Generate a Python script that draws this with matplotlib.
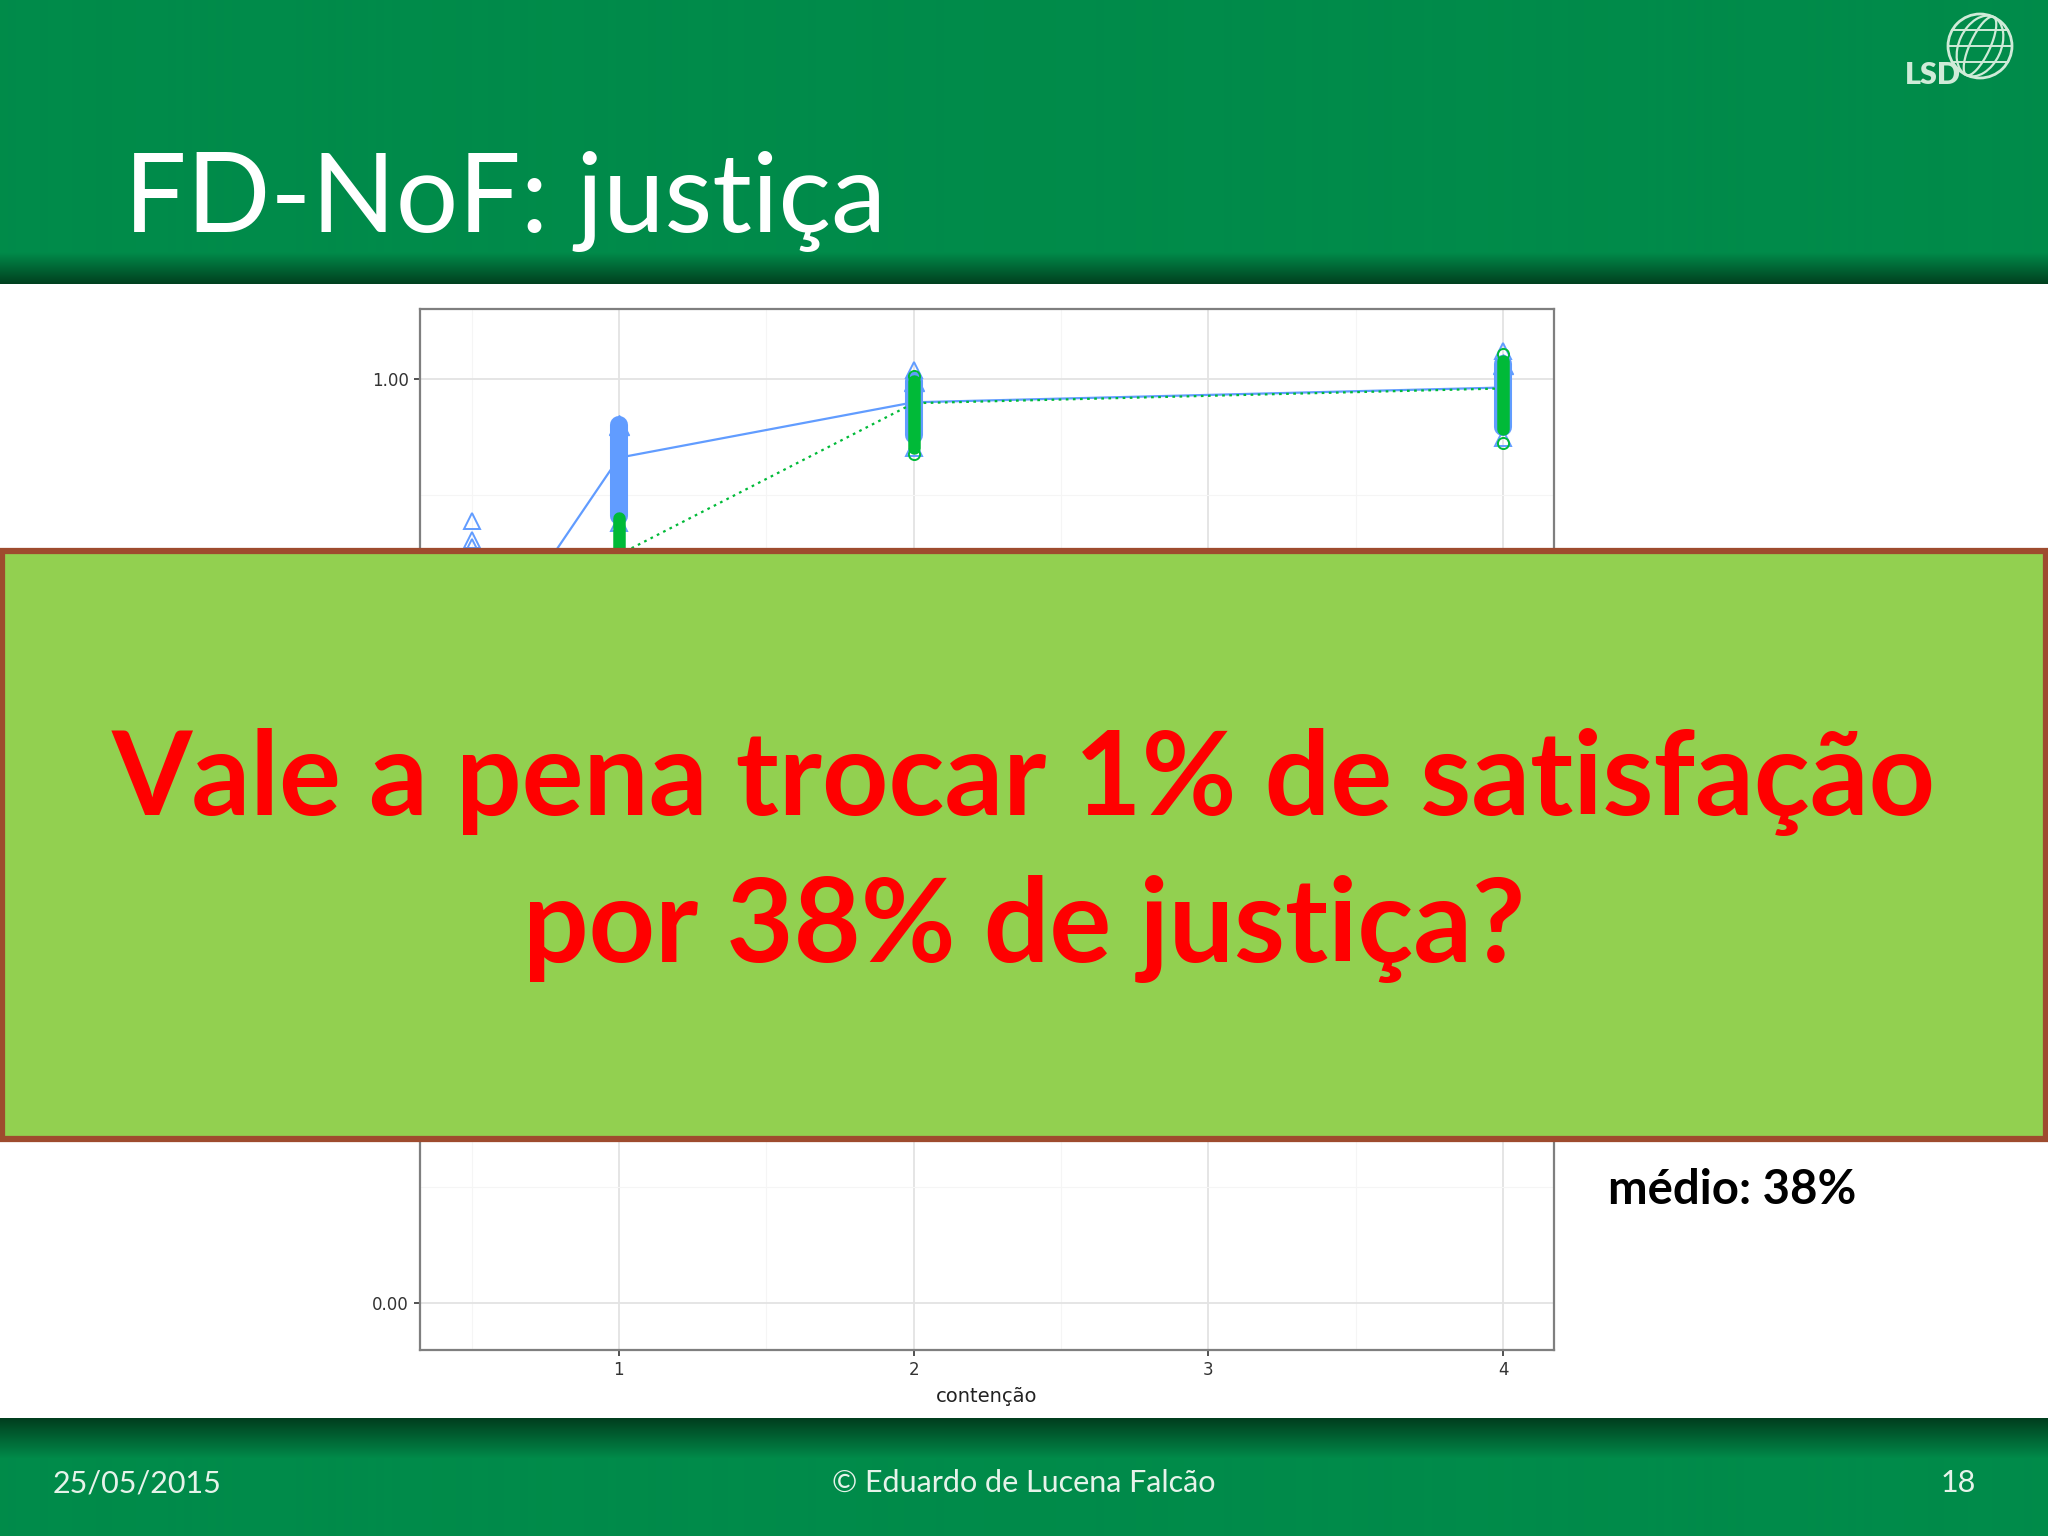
import matplotlib
matplotlib.use("Agg")
import matplotlib.pyplot as plt
import numpy as np
from matplotlib.patches import Rectangle, Circle, Arc

# --- chart data ----------------------------------------------------------
# mean line per contention level (blue = solid, green = dotted)
azul_x = [0.5, 1, 2, 4]
azul_media = [0.68, 0.915, 0.975, 0.991]
verde_x = [1, 2, 4]
verde_media = [0.81, 0.974, 0.990]

# dense stacks of points drawn as solid columns (min / max of each stack)
azul_col_x = [1, 2, 4]
azul_col_min = [0.852, 0.940, 0.948]
azul_col_max = [0.950, 0.998, 1.016]
verde_col_x = [1, 2, 4]
verde_col_min = [0.60, 0.925, 0.946]
verde_col_max = [0.850, 0.998, 1.020]

# loose points around the stacks
azul_pts_x = [0.5, 0.5, 0.5, 1, 2, 2, 4, 4]
azul_pts_y = [0.846, 0.826, 0.818, 0.844, 0.926, 1.010, 0.936, 1.030]
verde_pts_x = [2, 2, 4, 4]
verde_pts_y = [0.919, 1.004, 0.931, 1.027]

y_ticks = [0.0, 0.25, 0.5, 0.75, 1.0]
y_labels = ["0.00", "0.25", "0.50", "0.75", "1.00"]
x_ticks = [1, 2, 3, 4]
x_labels = ["1", "2", "3", "4"]

AZUL = "#619CFF"
VERDE = "#00BA38"
HEADER = (0 / 255, 139 / 255, 74 / 255)

W, H = 2048, 1536
fig = plt.figure(figsize=(20.48, 15.36), dpi=100)
fig.patch.set_facecolor("white")

# --- background: header / footer ----------------------------------------
bg = fig.add_axes([0, 0, 1, 1])
bg.set_xlim(0, W)
bg.set_ylim(H, 0)
bg.axis("off")
bg.set_zorder(0)

dark = np.array([0, 62, 30]) / 255
base = np.array(HEADER)
rows = 284
grad = np.zeros((rows, 1, 3))
for i in range(rows):
    t = 0.0 if i < 252 else (i - 252) / (rows - 252)
    grad[i, 0] = base * (1 - t) + dark * t
bg.imshow(grad, extent=(0, W, rows, 0), aspect="auto", interpolation="bilinear")

frows = H - 1418
fgrad = np.zeros((frows, 1, 3))
for i in range(frows):
    t = max(0.0, 1 - i / 40)
    fgrad[i, 0] = base * (1 - t) + dark * t
bg.imshow(fgrad, extent=(0, W, H, 1418), aspect="auto", interpolation="bilinear")
bg.set_xlim(0, W)
bg.set_ylim(H, 0)

# logo
logo_c = "#CFEBD8"
bg.add_patch(Circle((1980, 46), 32, fill=False, ec=logo_c, lw=2))
for w_ in (20, 42):
    bg.add_patch(Arc((1980, 46), w_, 64, angle=25, ec=logo_c, lw=1.6))
for dy in (-16, 0, 16):
    half = np.sqrt(32 ** 2 - dy ** 2)
    bg.plot([1980 - half, 1980 + half], [46 + dy, 46 + dy], color=logo_c, lw=1.4)
bg.text(1905, 84, "LSD", color=logo_c, fontsize=22, fontweight="heavy",
        family=["Lato", "DejaVu Sans"], ha="left", va="baseline")

# --- the chart -------------------------------------------------------------
ax = fig.add_axes([420 / W, 1 - 1350 / H, (1554 - 420) / W, (1350 - 309) / H])
ax.set_zorder(1)
ax.set_facecolor("white")
ax.set_xlim(0.325, 4.173)
ax.set_ylim(-0.051, 1.076)

ax.set_xticks(x_ticks)
ax.set_xticklabels(x_labels)
ax.set_yticks(y_ticks)
ax.set_yticklabels(y_labels)
ax.set_xticks([0.5, 1.5, 2.5, 3.5], minor=True)
ax.set_yticks([0.125, 0.375, 0.625, 0.875], minor=True)
ax.grid(True, which="major", color="#E3E3E3", lw=1.3)
ax.grid(True, which="minor", color="#F5F5F5", lw=0.8)
ax.set_axisbelow(True)
ax.tick_params(which="minor", length=0)
ax.tick_params(which="major", length=4, width=1.2, color="#333333",
               labelsize=12, labelcolor="#333333", pad=4)
for s in ax.spines.values():
    s.set_color("#7F7F7F")
    s.set_linewidth(1.6)
ax.set_xlabel("contenção", fontsize=14, color="#222222", labelpad=6)

# blue series
ax.vlines(azul_col_x, azul_col_min, azul_col_max, color=AZUL, lw=13,
          capstyle="round", zorder=3)
ax.plot(azul_col_x, azul_col_max, "^", color=AZUL, ms=14, zorder=3)
ax.plot(azul_pts_x, azul_pts_y, "^", mfc="none", mec=AZUL, mew=1.4, ms=11, zorder=3)
ax.plot(azul_x, azul_media, "-", color=AZUL, lw=1.6, zorder=4)

# green series
ax.vlines(verde_col_x, verde_col_min, verde_col_max, color=VERDE, lw=9,
          capstyle="round", zorder=5)
ax.plot(verde_pts_x, verde_pts_y, "o", mfc="none", mec=VERDE, mew=1.4, ms=8, zorder=5)
ax.plot(verde_x, verde_media, color=VERDE, lw=1.6, ls=(0, (1.2, 2.0)), zorder=6)

# --- overlay: titles, box, footer -----------------------------------------
ov = fig.add_axes([0, 0, 1, 1])
ov.set_zorder(2)
ov.patch.set_visible(False)
ov.set_xlim(0, W)
ov.set_ylim(H, 0)
ov.axis("off")

ov.text(124, 232, "FD-NoF: justiça", color="white", fontsize=79.5,
        family=["Lato", "DejaVu Sans"], ha="left", va="baseline")

ov.add_patch(Rectangle((2, 551), W - 4, 588, fc="#92D050", ec="#9E4B2E", lw=4.5))
ov.text(1024, 815, "Vale a pena trocar 1% de satisfação", color="#FF0000",
        fontsize=83.3, fontweight="bold", family=["Lato", "DejaVu Sans"],
        ha="center", va="baseline")
ov.text(1024, 962, "por 38% de justiça?", color="#FF0000",
        fontsize=83.3, fontweight="bold", family=["Lato", "DejaVu Sans"],
        ha="center", va="baseline")

ov.text(1608, 1204, "médio: 38%", color="black", fontsize=34, fontweight="bold",
        family=["Lato", "DejaVu Sans"], ha="left", va="baseline")

foot_c = "#E6F3EA"
ov.text(53, 1492, "25/05/2015", color=foot_c, fontsize=22,
        family=["Lato", "DejaVu Sans"], ha="left", va="baseline")
ov.text(1024, 1492, "© Eduardo de Lucena Falcão", color=foot_c, fontsize=22,
        family=["Lato", "DejaVu Sans"], ha="center", va="baseline")
ov.text(1976, 1492, "18", color=foot_c, fontsize=22,
        family=["Lato", "DejaVu Sans"], ha="right", va="baseline")

fig.savefig("out.png", dpi=100)
